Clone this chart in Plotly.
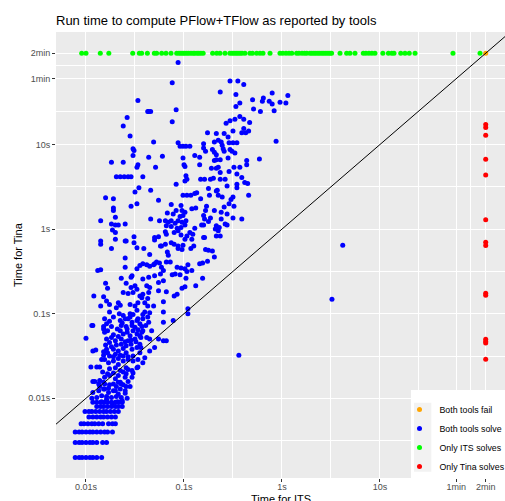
import plotly.graph_objects as go

TIMEOUT_S = 120  # both tools stopped after 2 minutes

# ---- Only ITS solves (Tina timed out): ITS time in seconds ----
only_its_x_s = [0.00904, 0.0100, 0.0140, 0.0171, 0.0300, 0.0350, 0.0370, 0.0423, 0.0498, 0.0526,
                0.0592, 0.0655, 0.0737, 0.0843, 0.0889, 0.0932, 0.0977, 0.102, 0.107, 0.112, 0.118,
                0.124, 0.129, 0.136, 0.142, 0.149, 0.157, 0.196, 0.216, 0.233, 0.262, 0.294, 0.309,
                0.324, 0.340, 0.356, 0.373, 0.391, 0.419, 0.471, 0.500, 0.552, 0.597, 0.640, 0.755,
                0.954, 1.02, 1.10, 1.18, 1.26, 1.41, 1.49, 1.60, 1.70, 1.79, 1.93, 2.02, 2.12, 2.22,
                2.33, 2.44, 2.56, 2.68, 2.81, 2.95, 3.09, 3.21, 3.91, 4.57, 4.94, 5.56, 6.76, 7.19,
                7.72, 8.28, 8.89, 10.7, 12.2, 13.2, 13.9, 16.3, 18.0, 19.9, 22.8, 55.6, 105]

# ---- Only Tina solves (ITS timed out): Tina time in seconds ----
only_tina_y_s = [17.2, 15.9, 12.9, 6.7, 4.37, 1.29, 0.70, 0.64, 0.175, 0.165, 0.050, 0.047, 0.045, 0.029]

# ---- Both tools fail ----
both_fail_s = [(120, 120)]

# ---- Both tools solve: (log10 ITS seconds, log10 Tina seconds) ----
both_upper_log10 = [
    (-1.06, 1.97), (-1.12, 1.73), (-0.53, 1.75), (-0.45, 1.75), (-0.39, 1.71), (-0.63, 1.62), (-0.47, 1.59),
    (-0.10, 1.61), (0.06, 1.58), (-0.19, 1.55), (-0.30, 1.53), (-0.20, 1.51), (-0.13, 1.51), (-0.10, 1.48),
    (-0.02, 1.50), (0.04, 1.49), (-0.43, 1.49), (-0.47, 1.45), (-1.47, 1.52), (-1.08, 1.41), (-1.37, 1.39),
    (-1.36, 1.39), (-1.34, 1.39), (-0.29, 1.42), (-0.22, 1.39), (-0.08, 1.40), (-1.58, 1.32), (-1.12, 1.27),
    (-1.62, 1.22), (-0.43, 1.33), (-0.39, 1.30), (-0.48, 1.30), (-0.53, 1.28), (-0.33, 1.26), (-0.57, 1.25),
    (-1.55, 1.10), (-1.31, 1.03), (-0.76, 1.14), (-0.67, 1.13), (-0.59, 1.13), (-0.55, 1.09), (-0.50, 1.16),
    (-0.39, 1.19), (-0.41, 1.14), (-0.37, 1.14), (-0.34, 1.16), (-0.06, 1.04), (-1.06, 1.02), (-1.04, 0.98),
    (-1.01, 0.98), (-0.98, 0.98), (-0.94, 0.98), (-0.80, 1.01), (-0.80, 0.96), (-0.69, 1.03), (-0.65, 1.05),
    (-0.62, 1.03), (-0.61, 0.99), (-0.54, 1.02), (-0.50, 1.02), (-0.46, 1.02), (-1.52, 0.95), (-1.51, 0.93),
    (-0.71, 0.94), (-0.69, 0.91), (-0.60, 0.95), (-0.59, 0.92), (-0.53, 0.94), (-0.51, 0.92), (-0.48, 0.90),
    (-0.55, 0.84), (-0.78, 0.92), (-1.52, 0.87), (-1.36, 0.85), (-1.22, 0.86), (-0.89, 0.87), (-0.84, 0.85),
    (-0.67, 0.88), (-1.74, 0.79), (-1.62, 0.79), (-1.47, 0.76), (-1.48, 0.73), (-1.29, 0.73), (-1.01, 0.84),
    (-1.00, 0.76), (-0.99, 0.74), (-0.84, 0.76), (-0.69, 0.81), (-0.67, 0.82), (-0.63, 0.82), (-0.65, 0.73),
    (-0.67, 0.72), (-0.72, 0.72), (-0.36, 0.81), (-0.36, 0.76), (-0.23, 0.83), (-0.49, 0.73), (-0.43, 0.73),
    (-0.63, 0.67), (-0.54, 0.68), (-1.69, 0.62), (-1.65, 0.62), (-1.61, 0.62), (-1.57, 0.62), (-1.54, 0.62),
    (-1.42, 0.62), (-0.98, 0.63), (-0.97, 0.59), (-0.99, 0.57), (-0.83, 0.59), (-0.79, 0.59), (-0.73, 0.59),
    (-0.70, 0.60), (-0.63, 0.59), (-0.58, 0.59), (-0.46, 0.65), (-0.46, 0.53), (-0.46, 0.49), (-0.41, 0.61),
    (-0.38, 0.55), (-0.35, 0.54), (-1.08, 0.53), (-1.46, 0.49), (-1.34, 0.46), (-0.75, 0.48), (-0.66, 0.46),
    (-0.56, 0.51),
]

both_middle_log10 = [
    (-1.50, 0.44), (-1.01, 0.40), (-0.97, 0.40), (-0.93, 0.40), (-0.89, 0.42), (-0.87, 0.43), (-1.80, 0.37),
    (-1.72, 0.36), (-1.48, 0.30), (-1.54, 0.27), (-1.26, 0.34), (-1.13, 0.29), (-1.03, 0.28), (-0.83, 0.36),
    (-0.74, 0.40), (-0.67, 0.45), (-0.65, 0.40), (-0.61, 0.38), (-0.52, 0.35), (-0.50, 0.38), (-0.54, 0.30),
    (-0.34, 0.40), (-0.77, 0.27), (-0.78, 0.22), (-0.69, 0.22), (-0.62, 0.20), (-0.59, 0.26), (-0.56, 0.18),
    (-0.49, 0.27), (-0.50, 0.13), (-0.41, 0.12), (-0.92, 0.24), (-0.88, 0.25), (-1.72, 0.25), (-1.72, 0.22),
    (-1.17, 0.19), (-1.11, 0.18), (-1.08, 0.22), (-1.02, 0.22), (-0.99, 0.20), (-1.01, 0.16), (-1.04, 0.15),
    (-1.70, 0.14), (-1.85, 0.10), (-1.34, 0.12), (-1.25, 0.10), (-1.19, 0.10), (-1.16, 0.08), (-1.13, 0.10),
    (-1.09, 0.07), (-1.06, 0.10), (-1.02, 0.08), (-0.98, 0.10), (-0.99, 0.05), (-0.80, 0.16), (-0.79, 0.12),
    (-0.75, 0.09), (-0.73, 0.13), (-0.62, 0.12), (-0.58, 0.06), (-0.56, 0.05), (-0.67, 0.04), (-0.64, 0.02),
    (-1.74, 0.06), (-1.70, 0.05), (-1.67, 0.05), (-1.60, 0.06), (-1.73, -0.01), (-1.70, -0.04), (-1.18, 0.04),
    (-1.13, 0.03), (-1.07, 0.01), (-1.03, 0.02), (-0.89, 0.01), (-0.82, 0.05), (-0.80, 0.05), (-0.68, 0.00),
    (-0.65, -0.02), (-0.67, -0.08), (-0.63, -0.08), (-1.19, -0.03), (-1.18, -0.06), (-1.10, -0.04),
    (-1.06, -0.02), (-0.94, -0.04), (-0.97, -0.08), (-0.91, -0.06), (-0.92, -0.12), (-1.30, -0.10),
    (-1.26, -0.09), (-1.30, -0.13), (-1.03, -0.07), (-1.70, -0.12), (-1.60, -0.14), (-1.59, -0.14),
    (-1.51, -0.09), (-1.51, -0.16), (-1.85, -0.14), (-1.85, -0.18), (-1.74, -0.23), (-1.23, -0.20),
    (-1.24, -0.20), (-1.19, -0.18), (-1.13, -0.16), (-1.10, -0.18), (-1.06, -0.20), (-1.01, -0.19),
    (-0.99, -0.12), (-0.80, -0.10), (-0.79, -0.10), (-1.41, -0.23), (-1.48, -0.22), (-0.90, -0.20),
    (-0.93, -0.23), (-0.78, -0.24), (-0.75, -0.25), (-0.71, -0.26), (-1.17, -0.27), (-1.16, -0.31),
    (-1.06, -0.23), (-1.02, -0.24), (-1.60, -0.34), (-1.35, -0.30), (-0.69, -0.33), (-1.45, -0.43),
    (-1.42, -0.41), (-1.38, -0.42), (-1.35, -0.44), (-1.31, -0.42), (-1.30, -0.41), (-1.28, -0.39),
    (-1.25, -0.40), (-1.18, -0.39), (-1.14, -0.39), (-1.07, -0.45), (-1.03, -0.46), (-0.99, -0.47),
    (-0.96, -0.42), (-0.84, -0.41), (-0.81, -0.40), (-0.76, -0.38), (-1.88, -0.49), (-1.85, -0.48),
    (-1.60, -0.45), (-1.48, -0.47), (-1.23, -0.45), (-1.21, -0.49), (-1.30, -0.55), (-1.24, -0.53),
    (-1.21, -0.61), (-1.26, -0.63), (-1.12, -0.54), (-1.09, -0.53), (-1.04, -0.54), (-0.97, -0.50),
    (-0.98, -0.58), (-0.92, -0.49), (-1.53, -0.55), (-1.54, -0.57), (-1.64, -0.58), (-1.42, -0.59),
    (-1.36, -0.57), (-0.81, -0.58), (-1.80, -0.64), (-1.78, -0.70), (-1.59, -0.64), (-1.54, -0.69),
    (-1.50, -0.67), (-1.48, -0.71), (-1.52, -0.75), (-1.38, -0.67), (-1.35, -0.69), (-1.36, -0.75),
    (-1.42, -0.77), (-1.45, -0.79), (-1.43, -0.81), (-1.37, -0.82), (-1.62, -0.75), (-1.57, -0.76),
    (-1.26, -0.73), (-1.18, -0.74), (-0.88, -0.67), (-0.99, -0.68), (-1.02, -0.70), (-1.07, -0.77),
    (-1.10, -0.79), (-1.92, -0.79), (-1.82, -0.80), (-1.79, -0.85), (-1.76, -0.89), (-1.67, -0.87),
    (-1.65, -0.90), (-1.69, -0.93), (-1.55, -0.89), (-1.50, -0.91), (-1.47, -0.87), (-1.40, -0.87),
    (-1.37, -0.91), (-1.31, -0.91), (-1.21, -0.86), (-1.85, -0.91), (-0.96, -0.94),
    (0.51, -0.83), (0.62, -0.19), (-0.44, -1.49),
]

both_lower_log10 = [
    (-1.76, -0.98), (-1.66, -1.00), (-1.55, -1.00), (-1.48, -0.96), (-1.40, -0.98), (-1.35, -0.99),
    (-1.21, -0.98), (-0.96, -1.00), (-1.94, -1.14), (-1.93, -1.14), (-1.81, -1.06), (-1.79, -1.12),
    (-1.76, -1.09), (-1.72, -1.04), (-1.65, -1.08), (-1.60, -1.06), (-1.55, -1.04), (-1.53, -1.10),
    (-1.48, -1.08), (-1.45, -1.12), (-1.42, -1.06), (-1.36, -1.10), (-1.37, -1.04), (-1.21, -1.10),
    (-1.11, -1.08), (-1.64, -1.14), (-1.59, -1.15), (-1.50, -1.16), (-1.43, -1.15), (-2.00, -1.29),
    (-1.82, -1.18), (-1.81, -1.22), (-1.79, -1.30), (-1.74, -1.28), (-1.70, -1.32), (-1.65, -1.20),
    (-1.62, -1.24), (-1.58, -1.22), (-1.55, -1.26), (-1.52, -1.20), (-1.48, -1.24), (-1.45, -1.26),
    (-1.42, -1.20), (-1.38, -1.28), (-1.33, -1.20), (-1.35, -1.30), (-1.26, -1.30), (-1.21, -1.32),
    (-1.18, -1.32), (-1.50, -1.30), (-1.57, -1.32), (-1.64, -1.30), (-1.76, -1.34), (-1.93, -1.44),
    (-1.90, -1.43), (-1.82, -1.45), (-1.79, -1.42), (-1.72, -1.42), (-1.67, -1.44), (-1.62, -1.41),
    (-1.76, -1.50), (-1.70, -1.48), (-1.65, -1.49), (-1.59, -1.46), (-1.53, -1.42), (-1.48, -1.40),
    (-1.45, -1.36), (-1.52, -1.50), (-1.30, -1.40), (-1.81, -1.54), (-1.84, -1.54), (-1.95, -1.63),
    (-1.89, -1.63), (-1.86, -1.63), (-1.77, -1.58), (-1.72, -1.56), (-1.67, -1.60), (-1.62, -1.56),
    (-1.57, -1.54), (-1.47, -1.54), (-1.48, -1.64), (-1.76, -1.65), (-1.70, -1.64), (-1.65, -1.67),
    (-1.59, -1.64), (-1.53, -1.67), (-1.91, -1.80), (-1.86, -1.79), (-1.81, -1.75), (-1.76, -1.73),
    (-1.70, -1.77), (-1.65, -1.81), (-1.60, -1.75), (-1.59, -1.71), (-1.53, -1.75), (-1.81, -1.83),
    (-1.72, -1.83), (-1.64, -1.83), (-1.93, -1.80), (-1.87, -1.83), (-1.82, -1.81), (-1.77, -1.88),
    (-1.67, -1.81), (-1.62, -1.84), (-1.57, -1.80), (-1.59, -1.86), (-1.69, -1.86), (-1.93, -1.93),
    (-1.87, -1.91), (-1.82, -1.89), (-1.77, -1.93), (-1.72, -1.91), (-1.67, -1.95), (-1.64, -1.99),
    (-1.89, -1.99), (-1.84, -1.97), (-1.79, -1.98), (-1.74, -1.99), (-1.69, -1.98),
]

# the solid-looking cluster between 0.01 s and 0.1 s
both_dense_log10 = [
    (-1.82, -1.15), (-1.78, -1.20), (-1.74, -1.15), (-1.68, -1.18), (-1.63, -1.11), (-1.58, -1.18),
    (-1.53, -1.14), (-1.47, -1.19), (-1.43, -1.22), (-1.80, -1.37), (-1.74, -1.39), (-1.69, -1.37),
    (-1.64, -1.36), (-1.59, -1.38), (-1.54, -1.36), (-1.49, -1.33), (-1.44, -1.40), (-1.82, -1.49),
    (-1.78, -1.46), (-1.72, -1.51), (-1.67, -1.53), (-1.62, -1.50), (-1.57, -1.51), (-1.52, -1.56),
    (-1.45, -1.46), (-1.40, -1.52), (-1.35, -1.44), (-1.83, -1.69), (-1.78, -1.71), (-1.72, -1.70),
    (-1.67, -1.73), (-1.62, -1.69), (-1.57, -1.66), (-1.52, -1.70), (-1.47, -1.63), (-1.42, -1.58),
    (-1.86, -1.86), (-1.81, -1.89), (-1.76, -1.84), (-1.70, -1.91), (-1.65, -1.89), (-1.60, -1.91),
    (-1.55, -1.86), (-1.94, -2.00), (-1.84, -2.04), (-1.79, -2.01), (-1.73, -2.06), (-1.68, -2.04),
    (-1.63, -2.03), (-1.58, -2.00), (-1.60, -1.94), (-1.62, -1.02), (-1.57, -1.06), (-1.52, -1.01),
    (-1.47, -1.06), (-1.42, -1.01), (-1.39, -1.14), (-1.44, -1.28), (-1.54, -1.31), (-1.60, -1.33),
    (-1.67, -1.27), (-1.72, -1.25),
]

# Tina reports whole milliseconds: rows of equal Tina time (s) with ITS times (log10 s)
row_tina_s = [0.009, 0.008, 0.007, 0.006, 0.005, 0.004, 0.003, 0.002]
row_its_log10 = [
    [-1.93, -1.89, -1.85, -1.81, -1.78, -1.74, -1.70, -1.66, -1.63],
    [-1.89, -1.85, -1.82, -1.78, -1.74, -1.70, -1.67, -1.63],
    [-2.01, -1.97, -1.94, -1.90, -1.86, -1.82, -1.79, -1.75, -1.71, -1.67],
    [-1.97, -1.93, -1.89, -1.85, -1.82, -1.78, -1.74, -1.70],
    [-2.05, -2.02, -1.98, -1.94, -1.91, -1.87, -1.83, -1.77, -1.73, -1.70],
    [-2.11, -2.07, -2.04, -2.00, -1.96, -1.93, -1.89, -1.85, -1.81, -1.78, -1.73],
    [-2.11, -2.07, -2.04, -2.00, -1.96, -1.93, -1.89, -1.83, -1.79],
    [-2.11, -2.07, -2.04, -2.00, -1.96, -1.93, -1.89, -1.84],
]

tick_vals = [0.01, 0.1, 1, 10, 60, 120]
tick_text = ["0.01s", "0.1s", "1s", "10s", "1min", "2min"]
minor_vals = [0.00316, 0.0316, 0.316, 3.16, 24.5, 84.9]

# ---------- build series ----------
pairs = both_upper_log10 + both_middle_log10 + both_lower_log10 + both_dense_log10
blue_x = [10 ** a for a, b in pairs]
blue_y = [10 ** b for a, b in pairs]
for t, row in zip(row_tina_s, row_its_log10):
    for a in row:
        blue_x.append(10 ** a)
        blue_y.append(t)

FONT = "Liberation Sans, Arial, Helvetica, sans-serif"
MS = 5

fig = go.Figure()
fig.add_trace(go.Scatter(x=blue_x, y=blue_y, mode="markers", name="Both tools solve", legendrank=2,
                         marker=dict(color="#0000FF", size=MS, line=dict(width=0))))
fig.add_trace(go.Scatter(x=only_its_x_s, y=[TIMEOUT_S] * len(only_its_x_s), mode="markers",
                         name="Only ITS solves", legendrank=3,
                         marker=dict(color="#00FF00", size=MS, line=dict(width=0))))
fig.add_trace(go.Scatter(x=[TIMEOUT_S] * len(only_tina_y_s), y=only_tina_y_s, mode="markers",
                         name="Only Tina solves", legendrank=4,
                         marker=dict(color="#FF0000", size=MS, line=dict(width=0))))
fig.add_trace(go.Scatter(x=[p[0] for p in both_fail_s], y=[p[1] for p in both_fail_s], mode="markers",
                         name="Both tools fail", legendrank=1,
                         marker=dict(color="#FFA500", size=MS, line=dict(width=0))))
# identity line y = x
fig.add_trace(go.Scatter(x=[1e-4, 1e4], y=[1e-4, 1e4], mode="lines", showlegend=False,
                         hoverinfo="skip", line=dict(color="black", width=1)))

axis_common = dict(
    type="log", tickmode="array", tickvals=tick_vals, ticktext=tick_text,
    ticks="outside", ticklen=3, tickwidth=1, tickcolor="#333333",
    tickfont=dict(family=FONT, size=9, color="#4D4D4D"),
    showgrid=True, gridcolor="white", gridwidth=1.1, zeroline=False, showline=False,
    minor=dict(tickmode="array", tickvals=minor_vals, showgrid=True, gridcolor="white",
               gridwidth=0.55, ticks=""),
)

fig.update_layout(
    width=505, height=501,
    margin=dict(l=56, r=0, t=32, b=23, autoexpand=False),
    paper_bgcolor="white", plot_bgcolor="#EBEBEB",
    font=dict(family=FONT, color="black"),
    xaxis=dict(range=[-2.306, 2.276], ticklabelstandoff=-3, **axis_common),
    yaxis=dict(range=[-2.942, 2.330], **axis_common),
    title=dict(text="Run time to compute PFlow+TFlow as reported by tools", x=56 / 505, xanchor="left",
               xref="container", y=1 - 20 / 501, yref="container", yanchor="middle",
               font=dict(family=FONT, size=13, color="black")),
    showlegend=True,
    legend=dict(x=(399.5 - 56) / 449, y=(478 - 395) / 446, xanchor="left", yanchor="top",
                bgcolor="rgba(0,0,0,0)", borderwidth=0, font=dict(family=FONT, size=8.8, color="black"),
                itemwidth=30, tracegroupgap=0),
    shapes=[
        dict(type="rect", xref="paper", yref="paper", x0=(411 - 56) / 449, x1=1.1, y0=0,
             y1=(478 - 390) / 446, fillcolor="white", line=dict(width=0), layer="above"),
        dict(type="rect", xref="paper", yref="paper", x0=(414 - 56) / 449, x1=(431.3 - 56) / 449,
             y0=(478 - 471.7) / 446, y1=(478 - 402.7) / 446, fillcolor="#F2F2F2", line=dict(width=0),
             layer="above"),
    ],
    annotations=[
        dict(text="Time for ITS", xref="paper", yref="paper", x=0.5, y=0, xanchor="center",
             yanchor="top", yshift=-13, showarrow=False, font=dict(family=FONT, size=11, color="black")),
        dict(text="Time for Tina", xref="paper", yref="paper", x=0, y=0.5, xanchor="center",
             yanchor="middle", xshift=-38, textangle=-90, showarrow=False,
             font=dict(family=FONT, size=11, color="black")),
    ],
)

fig.write_html("out.html")
